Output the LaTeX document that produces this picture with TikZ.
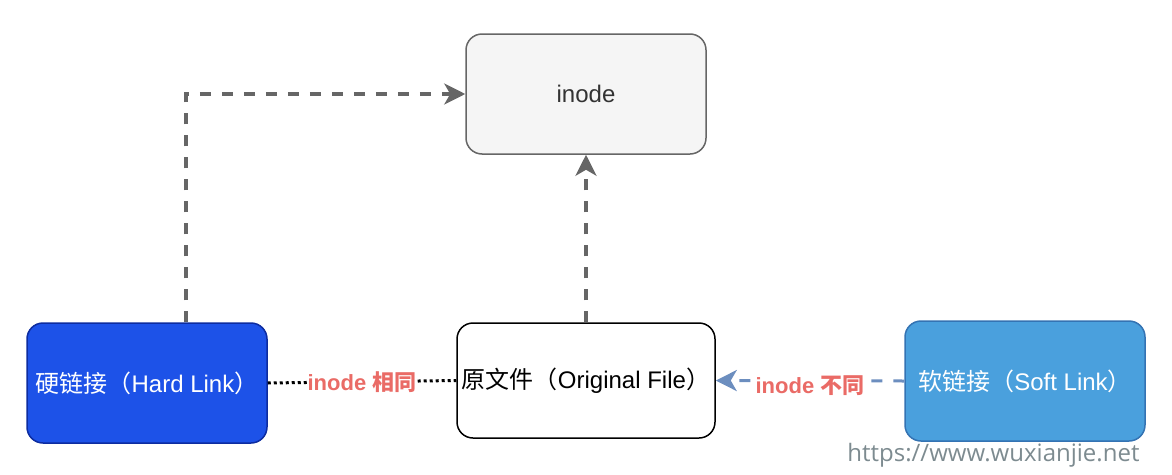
\documentclass[tikz,border=0pt]{standalone}
\usepackage{fontspec}
\setmainfont{Liberation Sans}
\newfontfamily\cjk{Noto Sans CJK SC}
\newfontfamily\markfont{Open Sans}
\usetikzlibrary{arrows.meta,positioning}

\definecolor{inodefill}{HTML}{F5F5F5}
\definecolor{inodeline}{HTML}{666666}
\definecolor{hardfill}{HTML}{1D52E8}
\definecolor{hardline}{HTML}{0D2CA0}
\definecolor{softfill}{HTML}{4AA0DD}
\definecolor{softline}{HTML}{3473B3}
\definecolor{softarrow}{HTML}{6C8EBF}
\definecolor{labelred}{HTML}{EA6B66}
\definecolor{markgray}{HTML}{7D8B90}

\begin{document}
\begin{tikzpicture}
[
  x=1pt, y=-1pt,
  box/.style={rectangle, rounded corners=16pt, line width=1.5pt,
    minimum width=240pt, minimum height=120pt, inner sep=0pt},
  dashlink/.style={line width=3.5pt, draw=inodeline, dash pattern=on 11pt off 11pt,
    -{Stealth[length=21pt,width=21pt,inset=6pt]}},
  tag/.style={fill=white, text=labelred, font=\fontsize{22}{26}\selectfont\bfseries, inner sep=1pt},
  font=\fontsize{24}{28}\selectfont
]
 \useasboundingbox (0,0) rectangle (1172,474);

 \node[box,fill=inodefill,draw=inodeline,text=black!80] (inode) at (586,94) {inode};
 \node[box,fill=hardfill,draw=hardline,text=white] (hard) at (147,383) {{\cjk 硬链接（}Hard Link{\cjk ）}};
 \node[box,fill=white,draw=black,minimum width=258pt,minimum height=115pt] (orig) at (586,380.5) {{\cjk 原文件（}Original File{\cjk ）}};
 \node[box,fill=softfill,draw=softline,text=white] (soft) at (1025,381) {{\cjk 软链接（}Soft Link{\cjk ）}};

 % hard link and the original share one inode
 \draw[dashlink] ([xshift=39pt]hard.north) |- (inode.west);
 \draw[dashlink] (orig.north) -- (inode.south);

 \path[line width=3pt, draw=black, dash pattern=on 3pt off 3pt]
    (hard.east) -- node[tag] {inode {\cjk 相同}} (orig.west);
 \path[line width=3pt, draw=softarrow, dash pattern=on 11pt off 11pt,
    -{Stealth[length=21pt,width=21pt,inset=6pt]}]
    (soft.west) -- node[tag,yshift=-5pt] {inode {\cjk 不同}} (orig.east);

 \node[text=markgray, font=\markfont\fontsize{24}{28}\selectfont, anchor=east] (mark) at (1143,455) {https://www.wuxianjie.net};
\end{tikzpicture}
\end{document}
